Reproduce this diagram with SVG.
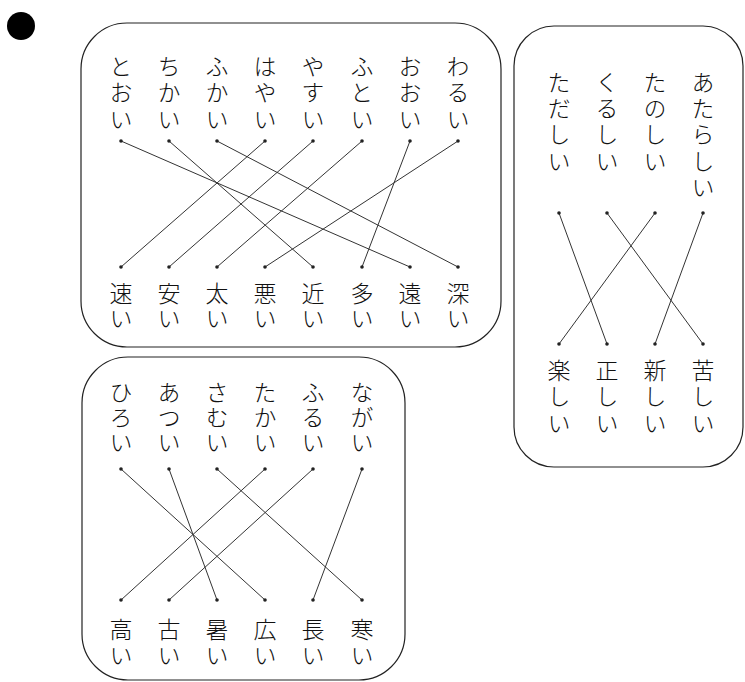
<svg xmlns="http://www.w3.org/2000/svg" width="745" height="682" viewBox="0 0 745 682">
<style>
.box{fill:#fff;stroke:#222;stroke-width:1.2}
.lbl{font-family:"Noto Sans CJK JP","Noto Sans CJK SC",sans-serif;font-size:23px;font-weight:300;fill:#111;writing-mode:vertical-rl;text-orientation:upright}
.t1{letter-spacing:3.5px}
.b1{letter-spacing:2px}
.t2{letter-spacing:3.3px}
.b2{letter-spacing:3.5px}
.t3{letter-spacing:2px}
.b3{letter-spacing:3px}
.ln{stroke:#333;stroke-width:1;fill:none}
.dot{fill:#222}
</style>
<rect width="745" height="682" fill="#fff"/>
<circle cx="21" cy="26" r="14" fill="#000"/>
<g id="box1"><rect class="box" x="81" y="23" width="420" height="324" rx="46" ry="46"/></g>
<g id="box2"><rect class="box" x="514" y="26" width="229" height="441" rx="40" ry="40"/></g>
<g id="box3"><rect class="box" x="82" y="357" width="323" height="323" rx="46" ry="46"/></g>

<g id="box1-top" class="lbl">
<g id="n-tooi"><text class="t1" x="121" y="54.5">とおい</text></g>
<g id="n-chikai"><text class="t1" x="169" y="54.5">ちかい</text></g>
<g id="n-fukai"><text class="t1" x="217" y="54.5">ふかい</text></g>
<g id="n-hayai"><text class="t1" x="265" y="54.5">はやい</text></g>
<g id="n-yasui"><text class="t1" x="313" y="54.5">やすい</text></g>
<g id="n-futoi"><text class="t1" x="362" y="54.5">ふとい</text></g>
<g id="n-ooi"><text class="t1" x="410" y="54.5">おおい</text></g>
<g id="n-warui"><text class="t1" x="458" y="54.5">わるい</text></g>
</g>
<g id="box1-bottom" class="lbl">
<g id="n-hayai-k"><text class="b1" x="121" y="282">速い</text></g>
<g id="n-yasui-k"><text class="b1" x="169" y="282">安い</text></g>
<g id="n-futoi-k"><text class="b1" x="217" y="282">太い</text></g>
<g id="n-warui-k"><text class="b1" x="265" y="282">悪い</text></g>
<g id="n-chikai-k"><text class="b1" x="313" y="282">近い</text></g>
<g id="n-ooi-k"><text class="b1" x="362" y="282">多い</text></g>
<g id="n-tooi-k"><text class="b1" x="410" y="282">遠い</text></g>
<g id="n-fukai-k"><text class="b1" x="458" y="282">深い</text></g>
</g>

<g id="box2-top" class="lbl">
<g id="n-tadashii"><text class="t2" x="559" y="70.5">ただしい</text></g>
<g id="n-kurushii"><text class="t2" x="607" y="70.5">くるしい</text></g>
<g id="n-tanoshii"><text class="t2" x="655" y="70.5">たのしい</text></g>
<g id="n-atarashii"><text class="t2" x="703" y="70.5">あたらしい</text></g>
</g>
<g id="box2-bottom" class="lbl">
<g id="n-tanoshii-k"><text class="b2" x="559" y="358.5">楽しい</text></g>
<g id="n-tadashii-k"><text class="b2" x="607" y="358.5">正しい</text></g>
<g id="n-atarashii-k"><text class="b2" x="655" y="358.5">新しい</text></g>
<g id="n-kurushii-k"><text class="b2" x="703" y="358.5">苦しい</text></g>
</g>

<g id="box3-top" class="lbl">
<g id="n-hiroi"><text class="t3" x="121" y="380.5">ひろい</text></g>
<g id="n-atsui"><text class="t3" x="169" y="380.5">あつい</text></g>
<g id="n-samui"><text class="t3" x="217" y="380.5">さむい</text></g>
<g id="n-takai"><text class="t3" x="265" y="380.5">たかい</text></g>
<g id="n-furui"><text class="t3" x="313" y="380.5">ふるい</text></g>
<g id="n-nagai"><text class="t3" x="362" y="380.5">ながい</text></g>
</g>
<g id="box3-bottom" class="lbl">
<g id="n-takai-k"><text class="b3" x="121" y="617.5">高い</text></g>
<g id="n-furui-k"><text class="b3" x="169" y="617.5">古い</text></g>
<g id="n-atsui-k"><text class="b3" x="217" y="617.5">暑い</text></g>
<g id="n-hiroi-k"><text class="b3" x="265" y="617.5">広い</text></g>
<g id="n-nagai-k"><text class="b3" x="313" y="617.5">長い</text></g>
<g id="n-samui-k"><text class="b3" x="362" y="617.5">寒い</text></g>
</g>

<g id="connectors">
<g class="ln">
<line x1="121" y1="141" x2="410" y2="267"/>
<line x1="169" y1="141" x2="313" y2="267"/>
<line x1="217" y1="141" x2="458" y2="267"/>
<line x1="265" y1="141" x2="121" y2="267"/>
<line x1="313" y1="141" x2="169" y2="267"/>
<line x1="362" y1="141" x2="217" y2="267"/>
<line x1="410" y1="141" x2="362" y2="267"/>
<line x1="458" y1="141" x2="265" y2="267"/>
<line x1="559" y1="213" x2="607" y2="344"/>
<line x1="607" y1="213" x2="703" y2="344"/>
<line x1="655" y1="213" x2="559" y2="344"/>
<line x1="703" y1="213" x2="655" y2="344"/>
<line x1="121" y1="469" x2="265" y2="600"/>
<line x1="169" y1="469" x2="217" y2="600"/>
<line x1="217" y1="469" x2="362" y2="600"/>
<line x1="265" y1="469" x2="121" y2="600"/>
<line x1="313" y1="469" x2="169" y2="600"/>
<line x1="362" y1="469" x2="313" y2="600"/>
</g>
<g class="dot">
<circle cx="121" cy="141" r="1.8"/><circle cx="169" cy="141" r="1.8"/><circle cx="217" cy="141" r="1.8"/><circle cx="265" cy="141" r="1.8"/><circle cx="313" cy="141" r="1.8"/><circle cx="362" cy="141" r="1.8"/><circle cx="410" cy="141" r="1.8"/><circle cx="458" cy="141" r="1.8"/>
<circle cx="121" cy="267" r="1.8"/><circle cx="169" cy="267" r="1.8"/><circle cx="217" cy="267" r="1.8"/><circle cx="265" cy="267" r="1.8"/><circle cx="313" cy="267" r="1.8"/><circle cx="362" cy="267" r="1.8"/><circle cx="410" cy="267" r="1.8"/><circle cx="458" cy="267" r="1.8"/>
<circle cx="559" cy="213" r="1.8"/><circle cx="607" cy="213" r="1.8"/><circle cx="655" cy="213" r="1.8"/><circle cx="703" cy="213" r="1.8"/>
<circle cx="559" cy="344" r="1.8"/><circle cx="607" cy="344" r="1.8"/><circle cx="655" cy="344" r="1.8"/><circle cx="703" cy="344" r="1.8"/>
<circle cx="121" cy="469" r="1.8"/><circle cx="169" cy="469" r="1.8"/><circle cx="217" cy="469" r="1.8"/><circle cx="265" cy="469" r="1.8"/><circle cx="313" cy="469" r="1.8"/><circle cx="362" cy="469" r="1.8"/>
<circle cx="121" cy="600" r="1.8"/><circle cx="169" cy="600" r="1.8"/><circle cx="217" cy="600" r="1.8"/><circle cx="265" cy="600" r="1.8"/><circle cx="313" cy="600" r="1.8"/><circle cx="362" cy="600" r="1.8"/>
</g>
</g>
</svg>
